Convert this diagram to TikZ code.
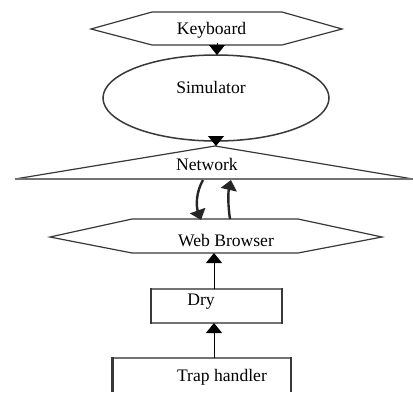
\documentclass[tikz,border=0pt]{standalone}
\usepackage{fontspec}
\setmainfont{Liberation Serif}
\usetikzlibrary{arrows.meta}

\definecolor{edge}{gray}{0.22}
\definecolor{softedge}{gray}{0.45}

\tikzset{
  outline/.style={draw=edge, line width=1.2pt, line join=miter},
  label/.style={anchor=base, inner sep=0pt, font=\fontsize{17.6}{20}\selectfont},
  head/.style={-{Triangle[width=16pt,length=10pt]}, line width=1pt, draw=black},
  loop/.style={-{Triangle[width=16pt,length=10pt]}, line width=2.4pt, draw=black!85},
}

\begin{document}
\begin{tikzpicture}[x=1pt, y=-1pt]
  \useasboundingbox (0,0) rectangle (413,392);

  % Keyboard hexagon
  \draw[outline] (91,29) -- (152,12) -- (282,12) -- (342,29) -- (282,45) -- (152,45) -- cycle;
  \node[label] (kb) at (211.5,34.5) {Keyboard};

  % Simulator ellipse
  \draw[outline, line width=1.5pt] (216,98) ellipse [x radius=113, y radius=43];
  \node[label] (sim) at (211,93) {Simulator};

  % Network triangle
  \draw[outline] (15,179) -- (215,146) -- (413,179);
  \draw[draw=softedge, line width=2pt] (15,179) -- (413,179);
  \node[label] (net) at (207,170) {Network};

  % Web Browser hexagon
  \draw[outline] (50,237) -- (132,219) -- (298,219) -- (382,237) -- (298,253) -- (132,253) -- cycle;
  \node[label] (web) at (226,246) {Web Browser};

  % Dry box: grey top and bottom, heavy sides
  \draw[draw=softedge, line width=1.5pt] (151,289) -- (282,289) (151,323) -- (282,323);
  \draw[draw=edge, line width=2.6pt] (151,288) -- (151,324) (282,288) -- (282,324);
  \node[label] (dry) at (201,305) {Dry};

  % Trap handler box, open at the bottom
  \draw[draw=softedge, line width=2pt] (112,358) -- (291,358);
  \draw[draw=edge, line width=3pt] (112,357) -- (112,392);
  \draw[draw=edge, line width=2pt] (291,357) -- (291,392);
  \node[label] (trap) at (222,381) {Trap handler};

  % connection points
  \coordinate (kb-out)   at (217,43);
  \coordinate (sim-in)   at (217,55);
  \coordinate (sim-out)  at (216,136);
  \coordinate (net-in)   at (216,146);
  \coordinate (net-l)    at (203,180);
  \coordinate (web-l)    at (201,220);
  \coordinate (web-r)    at (230,219);
  \coordinate (net-r)    at (231,180);
  \coordinate (dry-top)  at (214,289);
  \coordinate (web-bot)  at (214,253);
  \coordinate (trap-top) at (214,358);
  \coordinate (dry-bot)  at (214,323);

  % connectors
  \draw[head, line width=0.4pt] (kb-out) -- (sim-in);
  \draw[head, line width=0.4pt] (sim-out) -- (net-in);
  \draw[loop] (net-l) .. controls (196,192) and (196,206) .. (web-l);
  \draw[loop] (web-r) .. controls (228,206) and (228,193) .. (net-r);
  \draw[head] (dry-top) -- (web-bot);
  \draw[head] (trap-top) -- (dry-bot);
\end{tikzpicture}
\end{document}
